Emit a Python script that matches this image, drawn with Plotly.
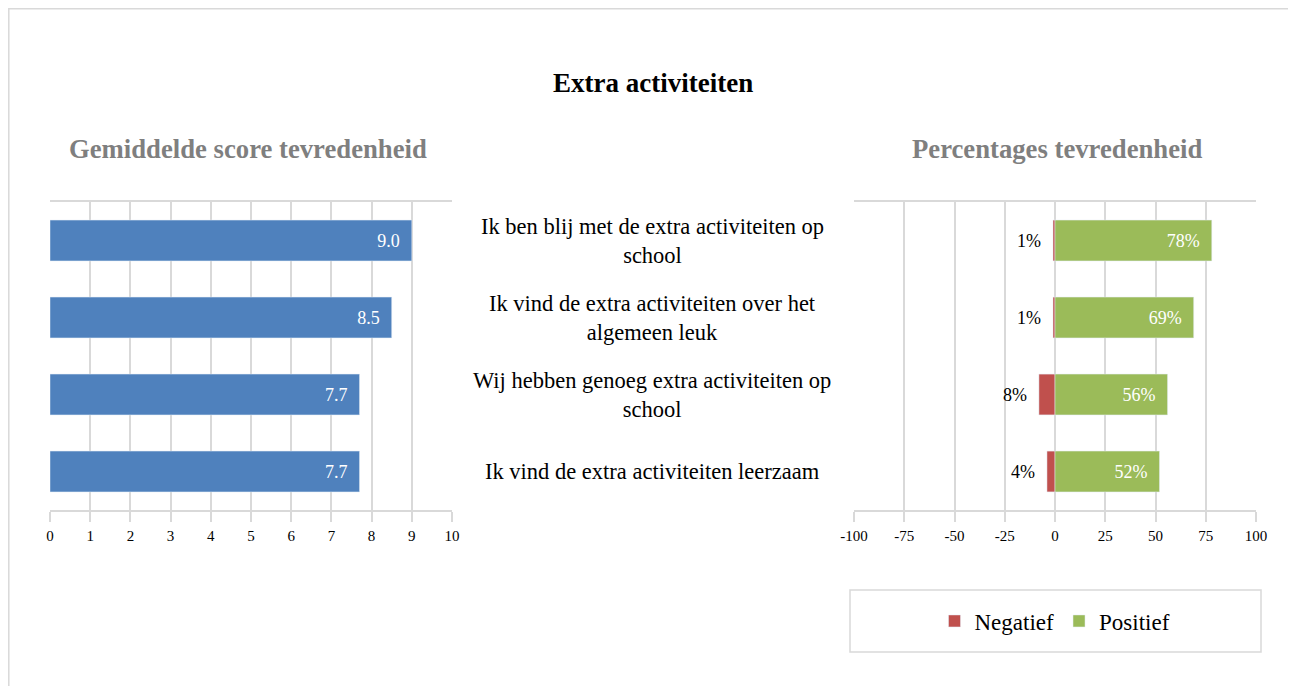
import plotly.graph_objects as go
from plotly.subplots import make_subplots

categories = [
    "Ik ben blij met de extra activiteiten op school",
    "Ik vind de extra activiteiten over het algemeen leuk",
    "Wij hebben genoeg extra activiteiten op school",
    "Ik vind de extra activiteiten leerzaam",
]
category_labels = [
    "Ik ben blij met de extra activiteiten op<br>school",
    "Ik vind de extra activiteiten over het<br>algemeen leuk",
    "Wij hebben genoeg extra activiteiten op<br>school",
    "Ik vind de extra activiteiten leerzaam",
]
mean_scores = [9.0, 8.5, 7.7, 7.7]
negative_pct = [1, 1, 8, 4]
positive_pct = [78, 69, 56, 52]
score_ticks = [0, 1, 2, 3, 4, 5, 6, 7, 8, 9, 10]
pct_ticks = [-100, -75, -50, -25, 0, 25, 50, 75, 100]
pct_tick_text = ["-100", "-75", "-50", "-25", "0", "25", "50", "75", "100"]

W, H = 1296, 686
PAGE_OFFSET = 8  # default body margin of the html page
FONT = "Liberation Serif, Times New Roman, serif"
GRID = "#D9D9D9"
PAD = "\u2002"

def px_x(p):
    return (p - PAGE_OFFSET) / W

def px_y(p):
    return 1 - (p - PAGE_OFFSET) / H

fig = make_subplots(rows=1, cols=2)

fig.add_trace(go.Bar(
    y=categories, x=mean_scores, orientation="h",
    marker_color="#4F81BD", showlegend=False,
    text=[f"{v:.1f}{PAD}" for v in mean_scores],
    textposition="inside", insidetextanchor="end",
    textfont=dict(color="white", size=18, family=FONT),
    cliponaxis=False,
), row=1, col=1)

fig.add_trace(go.Bar(
    y=categories, x=[-v for v in negative_pct], orientation="h",
    name="Negatief", marker_color="#C0504D",
    text=[f"{v}%{PAD}" for v in negative_pct], textposition="outside",
    textfont=dict(color="black", size=18, family=FONT),
    cliponaxis=False,
), row=1, col=2)

fig.add_trace(go.Bar(
    y=categories, x=positive_pct, orientation="h",
    name="Positief", marker_color="#9BBB59",
    text=[f"{v}%{PAD}" for v in positive_pct],
    textposition="inside", insidetextanchor="end",
    textfont=dict(color="white", size=18, family=FONT),
    cliponaxis=False,
), row=1, col=2)

ydom = [px_y(510), px_y(202)]
axis_common = dict(
    showgrid=True, gridcolor=GRID, gridwidth=1.5,
    showline=True, linecolor=GRID, linewidth=1.5, mirror=True,
    ticks="outside", ticklen=10, tickcolor=GRID, tickwidth=1.5,
    tickfont=dict(size=15, family=FONT, color="black"),
    ticklabelstandoff=1,
    zeroline=False, fixedrange=True, automargin=False,
)
fig.update_layout(
    xaxis=dict(domain=[px_x(50), px_x(452)], range=[0, 10],
               tickvals=score_ticks, **axis_common),
    xaxis2=dict(domain=[px_x(854), px_x(1256)], range=[-100, 100],
                tickvals=pct_ticks, ticktext=pct_tick_text, **axis_common),
    yaxis=dict(domain=ydom, autorange="reversed", showticklabels=False, showgrid=False,
               zeroline=False, ticks="", automargin=False),
    yaxis2=dict(domain=ydom, autorange="reversed", showticklabels=False, showgrid=False,
                zeroline=False, ticks="", automargin=False),
)

annotations = [
    dict(text="<b>Extra activiteiten</b>", x=px_x(653), y=px_y(83), xref="paper", yref="paper",
         xanchor="center", yanchor="middle",
         showarrow=False, font=dict(size=27, family=FONT, color="black")),
    dict(text="<b>Gemiddelde score tevredenheid</b>", x=px_x(248), y=px_y(149), xref="paper", yref="paper",
         xanchor="center", yanchor="middle",
         showarrow=False, font=dict(size=26.7, family=FONT, color="#7F7F7F")),
    dict(text="<b>Percentages tevredenheid</b>", x=px_x(1057), y=px_y(149), xref="paper", yref="paper",
         xanchor="center", yanchor="middle",
         showarrow=False, font=dict(size=26.7, family=FONT, color="#7F7F7F")),
]
for cat, lab in zip(categories, category_labels):
    annotations.append(dict(text=lab, x=px_x(652), y=cat, xref="paper", yref="y",
                            xanchor="center", yanchor="middle",
                            showarrow=False, align="center",
                            font=dict(size=22.5, family=FONT, color="black")))

shapes = [
    dict(type="rect", xref="paper", yref="paper", x0=px_x(8.8), x1=px_x(1320), y0=px_y(720), y1=px_y(8.8),
         line=dict(color=GRID, width=1.5), layer="below"),
    dict(type="rect", xref="paper", yref="paper", x0=px_x(850), x1=px_x(1261), y0=px_y(652), y1=px_y(590),
         line=dict(color=GRID, width=1.5), layer="below"),
]

fig.update_layout(
    width=W, height=H,
    margin=dict(l=0, r=0, t=0, b=0, pad=0, autoexpand=False),
    paper_bgcolor="white", plot_bgcolor="white",
    barmode="relative", bargap=0.47,
    font=dict(family=FONT, color="black"),
    annotations=annotations, shapes=shapes,
    legend=dict(orientation="h", x=px_x(1055), xanchor="center", y=px_y(621), yanchor="middle",
                font=dict(size=23, family=FONT, color="black"), bgcolor="rgba(0,0,0,0)",
                itemclick=False, itemdoubleclick=False),
    showlegend=True,
)

fig.write_html("out.html")
